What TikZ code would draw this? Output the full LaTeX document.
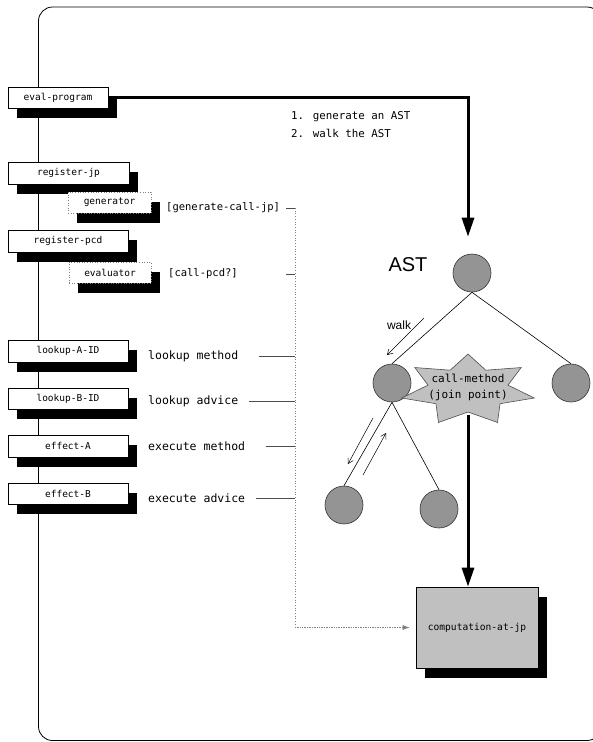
\documentclass[tikz,border=0pt]{standalone}
\usepackage{fontspec}
\setmainfont{Liberation Sans}
\newfontfamily\monofont{DejaVu Sans Mono}
\usetikzlibrary{arrows.meta,shadows}
\definecolor{nodegray}{HTML}{949494}
\definecolor{softgray}{HTML}{C0C0C0}
\begin{document}
\begin{tikzpicture}[x=1pt,y=-1pt,
  shadowed/.style={drop shadow={shadow xshift=9pt,shadow yshift=-10pt,fill=black,opacity=1}},
  procbox/.style={draw=black,fill=white,line width=0.6pt,minimum width=120pt,minimum height=22pt,inner sep=0pt,shadowed,font=\monofont\fontsize{9.5}{11}\selectfont},
  subbox/.style={procbox,draw=gray,dotted,minimum width=83pt,minimum height=21pt},
  sidelabel/.style={anchor=west,inner sep=0pt,font=\monofont\fontsize{11.5}{13}\selectfont},
  brlabel/.style={anchor=west,inner sep=0pt,font=\monofont\fontsize{10.5}{12}\selectfont},
  treenode/.style={circle,draw=black!80,line width=0.6pt,fill=nodegray,minimum size=38pt,inner sep=0pt},
  treeedge/.style={line width=0.6pt,draw=black},
  bigarrow/.style={line width=3pt,-{Triangle[length=19pt,width=12pt]}},
  tickline/.style={line width=0.6pt,draw=black!70},
  busline/.style={line width=0.7pt,draw=gray,dotted},
  walkarrow/.style={line width=0.5pt,-{Straight Barb[length=5pt,width=6pt]}},
  compbox/.style={draw=black,fill=softgray,line width=0.6pt,minimum width=122pt,minimum height=81pt,inner sep=0pt,shadowed,font=\monofont\fontsize{9.6}{11}\selectfont},
  starshape/.style={draw=black!70,fill=softgray,line width=0.6pt}
]
\useasboundingbox (0,0) rectangle (593,742);
% frame
\draw[line width=0.8pt,rounded corners=14pt] (38.5,7) rectangle (601,740.5);

% left column boxes
\node[procbox,minimum width=100pt,minimum height=21pt] (evalp) at (58,97.5) {eval-program};
\node[procbox,minimum width=121pt] (regjp) at (68.5,173) {register-jp};
\node[subbox] (gen) at (109.5,202.5) {generator};
\node[procbox] (regpcd) at (68,241) {register-pcd};
\node[subbox,minimum width=82pt] (evl) at (110,272.5) {evaluator};
\node[procbox] (lka) at (68,351) {lookup-A-ID};
\node[procbox,minimum height=21pt] (lkb) at (68,398.5) {lookup-B-ID};
\node[procbox] (efa) at (68,446) {effect-A};
\node[procbox,minimum height=21pt] (efb) at (68,493.5) {effect-B};

% labels
\node[brlabel] (genl) at (166,208) {[generate-call-jp]};
\node[brlabel] (cpl) at (168,274) {[call-pcd?]};
\node[sidelabel] (lm) at (148,356) {lookup method};
\node[sidelabel] (la) at (148,401) {lookup advice};
\node[sidelabel] (em) at (148,446) {execute method};
\node[sidelabel] (ea) at (148,498) {execute advice};

\node[anchor=north west,inner sep=0pt,align=left,font=\monofont\fontsize{10.8}{18}\selectfont] (steps) at (291,111) {1. generate an AST\\2. walk the AST};

% bus
\coordinate (tk) at (286,0);
\coordinate (busTop) at (295,208);
\coordinate (busBot) at (295,627.5);
\node[compbox] (comp) at (477,627.5) {computation-at-jp};
\draw[busline] (busTop) -- (busBot);
\draw[line width=0.7pt,draw=gray,densely dotted,-{Latex[length=7pt,width=5pt]}] (busBot) -- ([xshift=-6pt]comp.west);
\draw[tickline] (genl.east -| tk) -- (genl.east -| busTop);
\draw[tickline] (cpl.east -| tk) -- (cpl.east -| busTop);
\draw[tickline] ([xshift=21pt]lm.east) -- (lm.east -| busTop);
\draw[tickline] ([xshift=11pt]la.east) -- (la.east -| busTop);
\draw[tickline] ([xshift=21pt]em.east) -- (em.east -| busTop);
\draw[tickline] ([xshift=11pt]ea.east) -- (ea.east -| busTop);

% tree
\node[treenode] (root) at (472,273) {};
\node[treenode] (lc) at (392,383) {};
\node[treenode] (rc) at (571,383) {};
\node[treenode] (llc) at (344,505) {};
\node[treenode] (lrc) at (439,509) {};
\draw[treeedge] (root.south) -- (lc.north);
\draw[treeedge] (root.south) -- (rc.north);
\draw[treeedge] (lc.south) -- (llc.north);
\draw[treeedge] (lc.south) -- (lrc.north);
\node[font=\fontsize{20}{24}\selectfont,inner sep=0pt] (astl) at (408,265) {AST};

% walk arrows
\coordinate (w1) at (424,318);
\coordinate (w2) at (387,355);
\draw[walkarrow] (w1) -- (w2);
\node[font=\fontsize{12}{14}\selectfont,inner sep=0pt] (walkl) at (399,325) {walk};
\coordinate (d1) at (373,418);
\coordinate (d2) at (348,464);
\coordinate (u1) at (363,475);
\coordinate (u2) at (386,433);
\draw[walkarrow] (d1) -- (d2);
\draw[walkarrow] (u1) -- (u2);

% star (join point)
\path[starshape] ({468+68*cos(90)},{390-36*sin(90)})
  \foreach \k in {0,...,6} { -- ({468+68*cos(90+\k*360/7)},{390-36*sin(90+\k*360/7)}) -- ({468+41*cos(90+\k*360/7+360/14)},{390-22*sin(90+\k*360/7+360/14)}) } -- cycle;
\node[align=center,inner sep=0pt,font=\monofont\fontsize{11}{16}\selectfont] (jp) at (468,387) {call-method\\(join point)};
\coordinate (jpbot) at (468,415);

% thick arrows
\draw[bigarrow] (evalp.east) -| ([xshift=-4pt,yshift=17pt]root.north);
\draw[bigarrow] (jpbot) -- (jpbot |- comp.north);
\end{tikzpicture}
\end{document}
